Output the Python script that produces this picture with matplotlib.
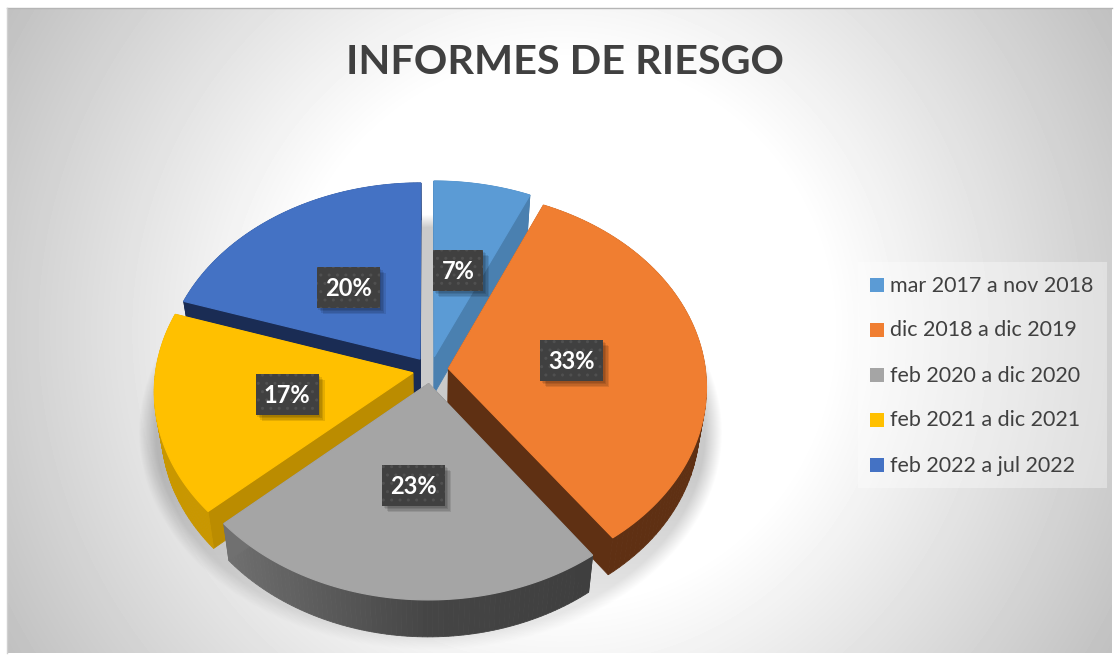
# Grafico de pastel 3D: informes de riesgo por periodo
import matplotlib
matplotlib.use("Agg")
import matplotlib.pyplot as plt
from matplotlib.patches import Rectangle
import numpy as np

# Datos
titulo = "INFORMES DE RIESGO"
periodos = ["mar 2017 a nov 2018", "dic 2018 a dic 2019", "feb 2020 a dic 2020",
            "feb 2021 a dic 2021", "feb 2022 a jul 2022"]
informes = [2, 10, 7, 5, 6]

# Estilo
colores = ["#5b9bd5", "#f07e31", "#a5a5a5", "#ffc000", "#4472c4"]
colores_pared = ["#4a80b0", "#5f3013", "#444444", "#bb8c00", "#1a2c54"]
orden_dibujo = [0, 4, 3, 1, 2]
color_texto = "#404040"

# Geometria de la proyeccion, en pixeles de la figura
cx, cy = 430.5, 370
a, b = 257, 194
p = 0.091
explosion = 0.07
grosor = 37
encoge = 0.975


def proyectar(x, y):
    s = 1 + p * y
    return cx + a * x / s, cy - b * y / s


fig = plt.figure(figsize=(11.16, 6.55), dpi=100)
ax = fig.add_axes([0, 0, 1, 1])

# Fondo con degradado radial
yy, xx = np.mgrid[8:653, 7:1112]
r = np.sqrt((xx - 560.0) ** 2 + (yy - 330.0) ** 2)
fondo = 1 - 0.25 * np.clip((r - 270) / 375, 0, 1.1)
ax.imshow(fondo, cmap="gray", vmin=0, vmax=1, extent=(7, 1112, 653, 8), aspect="auto", zorder=0)

# Sombra suave debajo del pastel
d = np.sqrt(((xx - 430) / 292) ** 2 + ((yy - 432) / 218) ** 2)
alfa = 0.21 * np.clip((1 - d) / 0.06, 0, 1)
alfa = alfa * (1 - 0.7 * np.clip((yy - 470) / 180, 0, 1))
sombra = np.zeros(d.shape + (4,))
sombra[..., 3] = alfa
ax.imshow(sombra, extent=(7, 1112, 653, 8), aspect="auto", zorder=1)

ax.set_xlim(0, 1116)
ax.set_ylim(655, 0)
ax.axis("off")
ax.plot([7, 1112], [8, 8], color="#b5b5b5", lw=1, zorder=1)
ax.plot([7, 7], [8, 653], color="#d0d0d0", lw=1, zorder=1)

# Angulos de cada porcion a partir de los datos
total = sum(informes)
fin = np.cumsum(informes) / total * 2 * np.pi
inicio = np.r_[0, fin[:-1]]

z = 2
for i in orden_dibujo:
    medio = (inicio[i] + fin[i]) / 2
    ex, ey = explosion * np.sin(medio), explosion * np.cos(medio)
    t = np.linspace(inicio[i], fin[i], 80)
    ux = np.r_[ex, ex + np.sin(t), ex]
    uy = np.r_[ey, ey + np.cos(t), ey]
    px, py = proyectar(ux, uy)
    bx = cx + (px - cx) * encoge
    by = py + grosor

    # Paredes laterales
    for k in range(len(px) - 1):
        color = colores_pared[i]
        if i == 2:
            g = np.interp(px[k], [224, 430, 593], [0x70, 0x45, 0x3f]) / 255
            color = (g, g, g)
        if i == 3:
            color = "#c99700"
            if k == 0 or k == len(px) - 2:
                color = colores_pared[i]
        ax.fill([px[k], px[k + 1], bx[k + 1], bx[k]], [py[k], py[k + 1], by[k + 1], by[k]],
                color=color, lw=0.6, zorder=z)
    z += 1
    # Cara superior
    ax.fill(px, py, color=colores[i], lw=0.9, zorder=z)
    z += 1

# Etiquetas de porcentaje
for i in range(len(informes)):
    medio = (inicio[i] + fin[i]) / 2
    ex, ey = explosion * np.sin(medio), explosion * np.cos(medio)
    lx, ly = proyectar(ex + 0.49 * np.sin(medio), ey + 0.49 * np.cos(medio))
    lx, ly = lx - 1, ly + 2
    ancho = 63 if informes[i] / total >= 0.095 else 50
    for desp in [6, 4.5, 3, 1.5]:
        ax.add_patch(Rectangle((lx - ancho / 2 + desp, ly - 20.5 + desp), ancho, 41,
                               fc="black", ec="none", alpha=0.1, zorder=30))
    ax.add_patch(Rectangle((lx - ancho / 2, ly - 20.5), ancho, 41, fc="#404040", ec="#505050",
                           hatch="..", lw=0, zorder=31))
    ax.text(lx, ly + 0.5, f"{informes[i] / total:.0%}", color="white", fontsize=17,
            fontweight="bold", family="Lato", ha="center", va="center", zorder=32)

# Titulo
ax.text(565, 62, titulo, color=color_texto, fontsize=29.8, fontweight="bold", family="Lato",
        ha="center", va="center", zorder=40)

# Leyenda
ax.add_patch(Rectangle((858, 262), 249, 226, fc="white", ec="none", alpha=0.35, zorder=5))
for i, periodo in enumerate(periodos):
    y = 285 + 45 * i
    ax.add_patch(Rectangle((870, y - 7), 14, 14, fc=colores[i], ec="none", zorder=6))
    ax.text(890, y + 0.5, periodo, color=color_texto, fontsize=15.5, family="Lato",
            ha="left", va="center", zorder=6)

fig.savefig("out.png", dpi=100)
